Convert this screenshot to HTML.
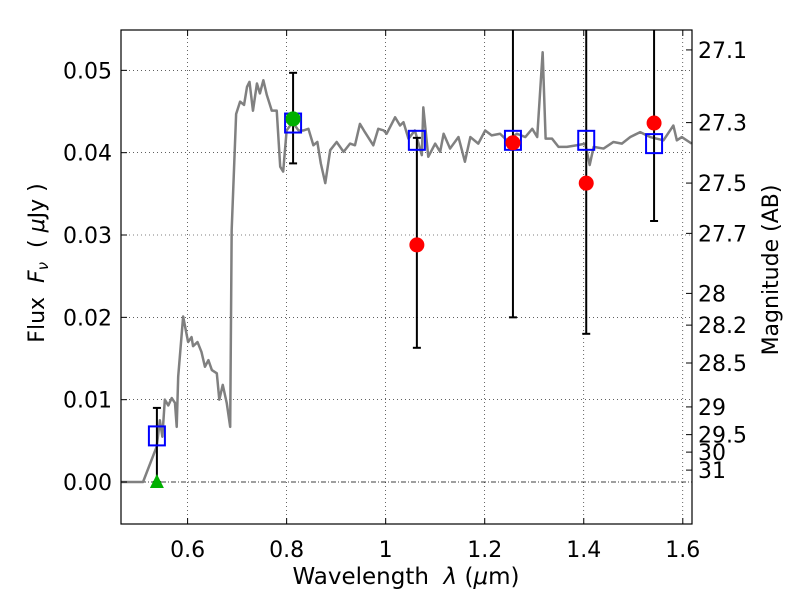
<!DOCTYPE html>
<html><head><meta charset="utf-8"><style>
body{margin:0;background:#fff}
svg{font-family:"DejaVu Sans","Liberation Sans",sans-serif}
</style></head><body>
<svg id="chart" width="800" height="600">
</svg>
<script>
const specWave=[0.466,0.510,0.5376,0.544,0.549,0.554,0.561,0.568,0.5745,0.578,0.581,0.591,0.601,0.608,0.611,0.620,0.628,0.635,0.642,0.649,0.659,0.664,0.671,0.679,0.686,0.689,0.698,0.706,0.714,0.720,0.725,0.732,0.740,0.746,0.753,0.760,0.770,0.780,0.787,0.793,0.800,0.812,0.824,0.834,0.844,0.854,0.862,0.869,0.878,0.888,0.901,0.915,0.928,0.938,0.948,0.958,0.975,0.985,0.996,1.002,1.019,1.029,1.036,1.046,1.059,1.073,1.076,1.086,1.100,1.110,1.117,1.130,1.147,1.160,1.171,1.187,1.201,1.214,1.231,1.245,1.265,1.282,1.296,1.306,1.317,1.323,1.336,1.349,1.366,1.386,1.403,1.412,1.420,1.440,1.460,1.477,1.494,1.514,1.534,1.561,1.581,1.588,1.598,1.618];
const specFlux=[0,0,0.0043,0.0075,0.0055,0.010,0.0093,0.0102,0.0096,0.0067,0.0128,0.0201,0.0170,0.0176,0.0165,0.0170,0.0158,0.0140,0.0148,0.0136,0.0132,0.0100,0.0118,0.0096,0.0067,0.0306,0.0447,0.0462,0.0458,0.0480,0.0486,0.0451,0.0484,0.0472,0.0488,0.0470,0.0451,0.0451,0.0383,0.0377,0.0427,0.0437,0.0427,0.0427,0.0429,0.0409,0.0413,0.0387,0.0363,0.0403,0.0413,0.0401,0.0411,0.0409,0.0435,0.0425,0.0409,0.0429,0.0427,0.0423,0.0443,0.0433,0.0437,0.0417,0.0427,0.0397,0.0455,0.0395,0.0411,0.0401,0.0423,0.0405,0.0419,0.0389,0.0419,0.0411,0.0427,0.0421,0.0423,0.0415,0.0423,0.0419,0.0429,0.0419,0.0522,0.0417,0.0417,0.0407,0.0407,0.0409,0.0411,0.0385,0.0407,0.0405,0.0413,0.0411,0.0419,0.0425,0.0419,0.0415,0.0433,0.0415,0.0419,0.0411];
const modelWave=[0.538,0.813,1.063,1.257,1.405,1.542];
const modelFlux=[0.0056,0.0436,0.0415,0.0415,0.0415,0.0411];
const obsWave=[1.063,1.257,1.405,1.542];
const obsFlux=[0.0288,0.0412,0.0363,0.0436];
const obsLow=[0.0163,0.020,0.018,0.0317];
const obsHigh=[0.0418,0.07,0.07,0.07];
const detWave=[0.813];const detFlux=[0.0441];const detLow=[0.0387];const detHigh=[0.0497];
const limWave=[0.538];const limFlux=[0];const limHigh=[0.009];
const xTicks=[0.6,0.8,1.0,1.2,1.4,1.6];const xTickLabels=["0.6","0.8","1","1.2","1.4","1.6"];
const yTicks=[0,0.01,0.02,0.03,0.04,0.05];const yTickLabels=["0.00","0.01","0.02","0.03","0.04","0.05"];
const magTicks=[27.1,27.3,27.5,27.7,28,28.2,28.5,29,29.5,30,31];
const magLabels=["27.1","27.3","27.5","27.7","28","28.2","28.5","29","29.5","30","31"];

const L=121,R=692,T=30,B=524,xmin=0.4655,xmax=1.6186,ymin=-0.0051,ymax=0.0549;
const X=v=>L+(v-xmin)/(xmax-xmin)*(R-L);
const Y=v=>B-(v-ymin)/(ymax-ymin)*(B-T);
const NS="http://www.w3.org/2000/svg";
const svg=document.getElementById('chart');
function mk(tag,attrs,parent){const e=document.createElementNS(NS,tag);for(const k in attrs)e.setAttribute(k,attrs[k]);(parent||svg).appendChild(e);return e;}
const defs=mk('defs',{});const cp=mk('clipPath',{id:'clip'},defs);mk('rect',{x:L,y:T,width:R-L,height:B-T},cp);
const plot=mk('g',{'clip-path':'url(#clip)'});


xTicks.forEach((t,i)=>{const g=mk('line',{x1:X(t),x2:X(t),y1:T,y2:B,stroke:'#000','stroke-width':0.6,'stroke-dasharray':'1,3'},plot);

});
yTicks.forEach(t=>{if(t===0)return;const g=mk('line',{x1:L,x2:R,y1:Y(t),y2:Y(t),stroke:'#000','stroke-width':0.6,'stroke-dasharray':'1,3'},plot);

});
const zl=mk('line',{x1:L,x2:R,y1:Y(0),y2:Y(0),stroke:'#000','stroke-width':0.7,'stroke-dasharray':'5,2,1,2'},plot);


const sp=mk('polyline',{points:specWave.map((w,i)=>X(w)+','+Y(specFlux[i])).join(' '),fill:'none',stroke:'#808080','stroke-width':2.5,'stroke-linejoin':'round'},plot);


function ebar(x,lo,hi,name){const g=mk('g',{},plot);


mk('line',{x1:X(x),x2:X(x),y1:Y(lo),y2:Y(hi),stroke:'#000','stroke-width':2},g);
[lo,hi].forEach(v=>mk('line',{x1:X(x)-4,x2:X(x)+4,y1:Y(v),y2:Y(v),stroke:'#000','stroke-width':2},g));}
obsWave.forEach((w,i)=>ebar(w,obsLow[i],obsHigh[i],'obs-error-bar'));
detWave.forEach((w,i)=>ebar(w,detLow[i],detHigh[i],'detection-error-bar'));
limWave.forEach((w,i)=>ebar(w,limFlux[i],limHigh[i],'limit-error-bar'));
modelWave.forEach((w,i)=>{const r=mk('rect',{x:X(w)-8,y:Y(modelFlux[i])-9.5,width:16,height:19,fill:'none',stroke:'#0000ff','stroke-width':2},plot);

});
obsWave.forEach((w,i)=>{const c=mk('circle',{cx:X(w),cy:Y(obsFlux[i]),r:7.5,fill:'#ff0000'},plot);

});
detWave.forEach((w,i)=>{const c=mk('circle',{cx:X(w),cy:Y(detFlux[i]),r:7.5,fill:'#00b000'},plot);

});
limWave.forEach((w,i)=>{const x=X(w),y=Y(limFlux[i]);const p=mk('polygon',{points:`${x},${y-8} ${x-7},${y+6} ${x+7},${y+6}`,fill:'#00b000'},plot);

});
const fr=mk('rect',{x:L,y:T,width:R-L,height:B-T,fill:'none',stroke:'#000','stroke-width':1.2});


xTicks.forEach((t,i)=>{mk('line',{x1:X(t),x2:X(t),y1:B,y2:B-6,stroke:'#000'});mk('line',{x1:X(t),x2:X(t),y1:T,y2:T+6,stroke:'#000'});
const tx=mk('text',{x:X(t),y:B+33,'text-anchor':'middle','font-size':22});tx.textContent=xTickLabels[i];

});
yTicks.forEach((t,i)=>{mk('line',{x1:L,x2:L+6,y1:Y(t),y2:Y(t),stroke:'#000'});
const tx=mk('text',{x:L-9,y:Y(t)+8,'text-anchor':'end','font-size':22});tx.textContent=yTickLabels[i];

});
magTicks.forEach((m,i)=>{const f=Math.pow(10,(23.9-m)/2.5);mk('line',{x1:R,x2:R-6,y1:Y(f),y2:Y(f),stroke:'#000'});
const tx=mk('text',{x:R+6,y:Y(f)+8,'font-size':22});tx.textContent=magLabels[i];

});
const xl=mk('text',{x:406,y:584,'text-anchor':'middle','font-size':23});xl.innerHTML='Wavelength &#160;<tspan font-style="italic">λ</tspan> (<tspan font-style="italic">μ</tspan>m)';


const yl=mk('text',{x:0,y:0,transform:'translate(44,263) rotate(-90)','text-anchor':'middle','font-size':22});yl.innerHTML='Flux &#160;<tspan font-style="italic">F</tspan><tspan font-style="italic" font-size="15" dy="4">ν</tspan><tspan dy="-4"> &#160;( </tspan><tspan font-style="italic">μ</tspan>Jy )';


const rl=mk('text',{x:0,y:0,transform:'translate(778,270) rotate(-90)','text-anchor':'middle','font-size':22});rl.textContent='Magnitude (AB)';


</script>
</body></html>
